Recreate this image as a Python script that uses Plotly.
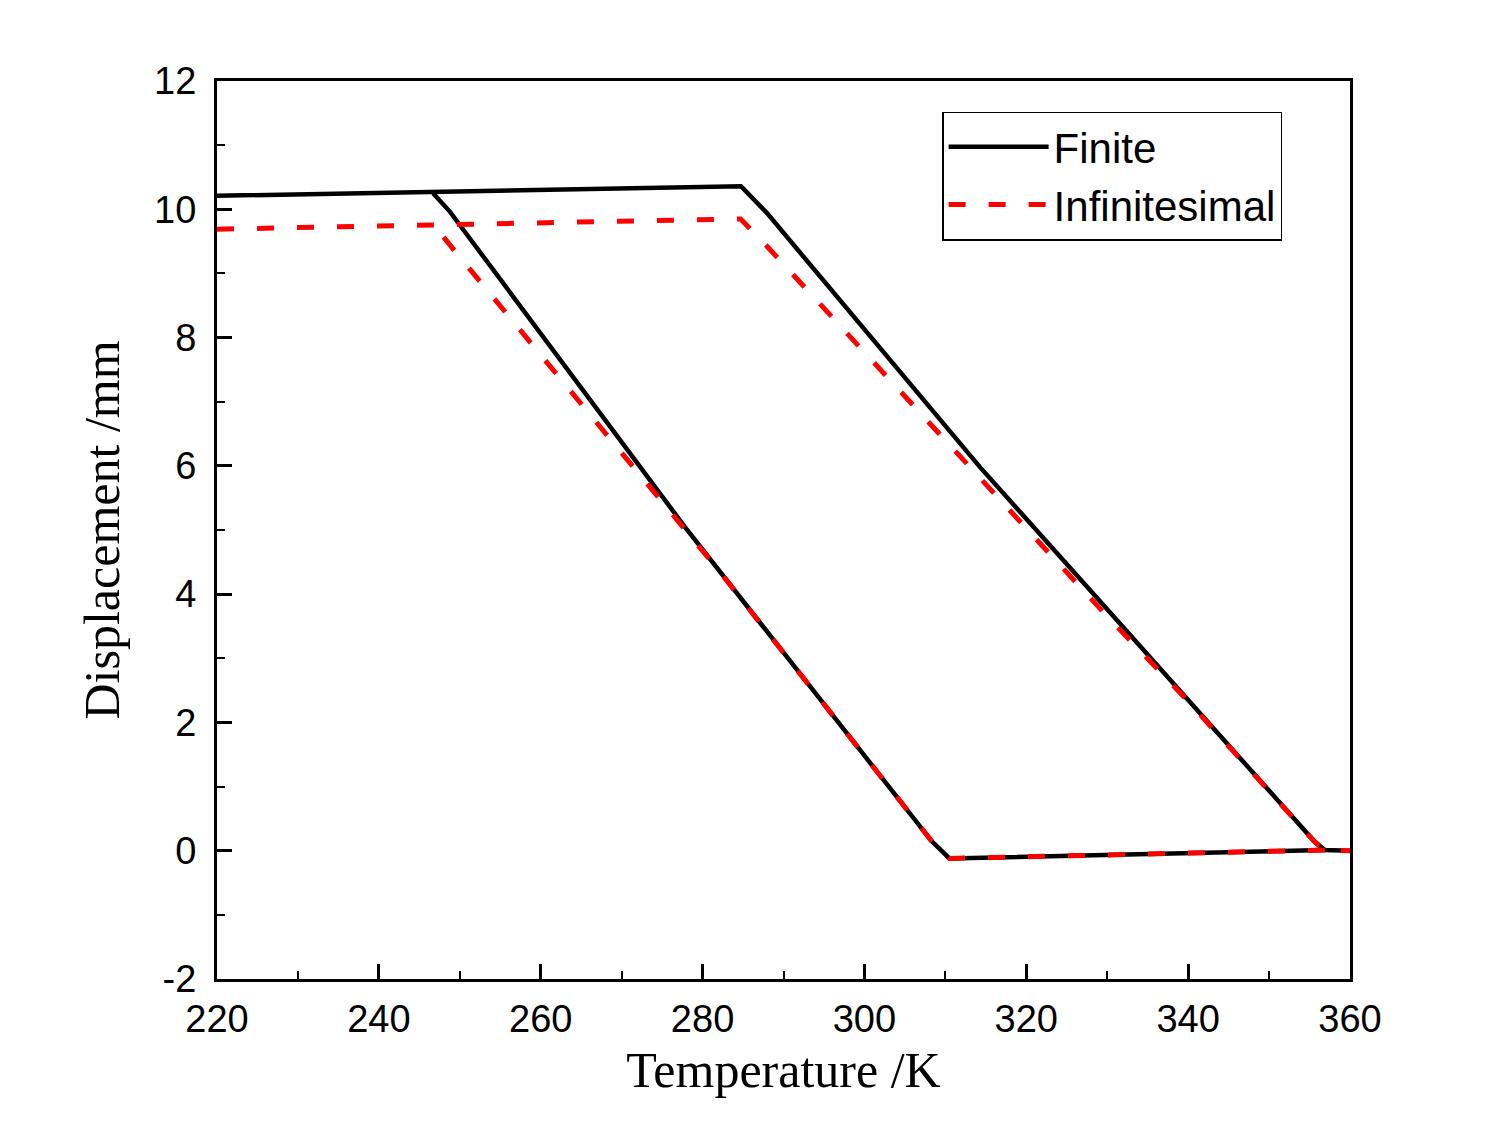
import plotly.graph_objects as go

# ---- data ----
finite_heat_T = [220.0, 284.75, 287.96, 314.28, 330.96, 355.67, 356.9, 360.0]
finite_heat_D = [10.21, 10.36, 9.94, 5.98, 3.63, 0.135, 0.01, 0.0]
finite_cool_T = [356.9, 310.5, 308.3, 278.1, 250.0, 248.8, 246.7]
finite_cool_D = [0.01, -0.12, 0.15, 5.0, 9.755, 9.96, 10.25]

inf_heat_T = [220.0, 284.7, 287.47, 314.9, 330.1, 340.0, 355.67, 356.9, 360.0]
inf_heat_D = [9.69, 9.85, 9.49, 5.73, 3.64, 2.33, 0.135, 0.01, 0.0]
inf_cool_T = [356.9, 310.5, 308.3, 282.0, 248.8, 246.7]
inf_cool_D = [0.01, -0.12, 0.15, 4.37, 9.44, 9.77]

x_ticks = [220, 240, 260, 280, 300, 320, 340, 360]
y_ticks = [-2, 0, 2, 4, 6, 8, 10, 12]

fig = go.Figure()
black = dict(color="black", width=4.5)
red = dict(color="#ff0000", width=5, dash="17px,23px")

fig.add_trace(go.Scatter(x=finite_heat_T, y=finite_heat_D, mode="lines", line=black,
                         name="Finite", legendgroup="f"))
fig.add_trace(go.Scatter(x=finite_cool_T, y=finite_cool_D, mode="lines", line=black,
                         name="Finite", legendgroup="f", showlegend=False))
fig.add_trace(go.Scatter(x=inf_heat_T, y=inf_heat_D, mode="lines", line=red,
                         name="Infinitesimal", legendgroup="i"))
fig.add_trace(go.Scatter(x=inf_cool_T, y=inf_cool_D, mode="lines", line=red,
                         name="Infinitesimal", legendgroup="i", showlegend=False))

axis_common = dict(
    showline=True, linecolor="black", linewidth=3, mirror=True,
    ticks="inside", ticklen=15, tickwidth=2.5, tickcolor="black",
    showgrid=False, zeroline=False,
    tickfont=dict(family="Liberation Sans, Arial", size=38, color="black"),
)

fig.update_xaxes(
    range=[220, 360], tickvals=x_ticks, ticktext=[str(v) for v in x_ticks],
    minor=dict(ticks="inside", ticklen=8, tickwidth=2, tickcolor="black", dtick=10, tick0=220),
    title=dict(text="Temperature /K", font=dict(family="Liberation Serif, Times New Roman", size=50, color="black"), standoff=14),
    ticklabelstandoff=4,
    **axis_common,
)
fig.update_yaxes(
    range=[-2, 12], tickvals=y_ticks, ticktext=[str(v) for v in y_ticks],
    minor=dict(ticks="inside", ticklen=8, tickwidth=2, tickcolor="black", dtick=1, tick0=0),
    title=dict(text="Displacement /mm", font=dict(family="Liberation Serif, Times New Roman", size=50, color="black"), standoff=19),
    ticklabelstandoff=10,
    **axis_common,
)

fig.update_layout(
    width=1500, height=1125,
    margin=dict(l=217, r=150, t=81, b=146),
    plot_bgcolor="white", paper_bgcolor="white",
    legend=dict(
        x=0.64, y=0.966, xanchor="left", yanchor="top",
        bgcolor="white", bordercolor="black", borderwidth=1.5,
        font=dict(family="Liberation Sans, Arial", size=42, color="black"),
        itemwidth=100, tracegroupgap=0,
    ),
    showlegend=True,
)

fig.write_html("out.html")
